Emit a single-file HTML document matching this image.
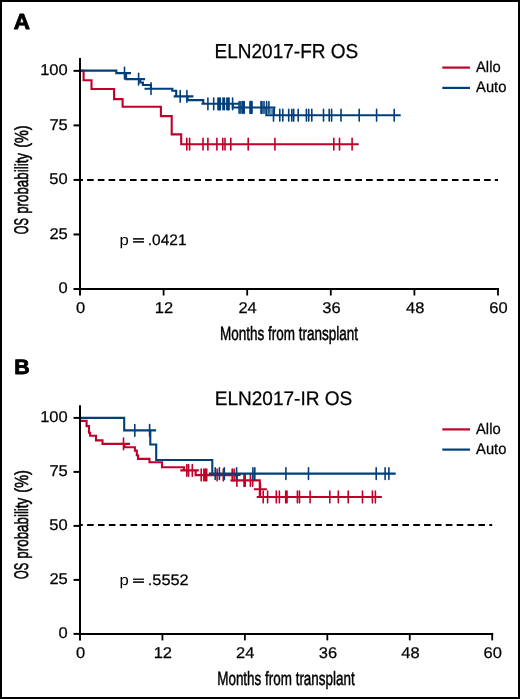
<!DOCTYPE html>
<html><head><meta charset="utf-8"><style>
html,body{margin:0;padding:0;background:#fff;}
body{width:520px;height:699px;overflow:hidden;}
.frame{position:absolute;left:0;top:0;width:516px;height:695px;border:2px solid #000;background:#fff;}
svg{position:absolute;left:0;top:0;will-change:transform;}
text{font-family:"Liberation Sans", sans-serif;fill:#000;text-rendering:geometricPrecision;}
</style></head><body>
<div class="frame"></div>
<svg width="520" height="699" viewBox="0 0 520 699">
<line x1="80.00" y1="58.00" x2="80.00" y2="295.50" stroke="#000" stroke-width="2"/>
<line x1="79.00" y1="289.00" x2="499.00" y2="289.00" stroke="#000" stroke-width="2"/>
<line x1="73.50" y1="289.00" x2="80.00" y2="289.00" stroke="#000" stroke-width="2"/>
<line x1="73.50" y1="234.46" x2="80.00" y2="234.46" stroke="#000" stroke-width="2"/>
<line x1="73.50" y1="179.92" x2="80.00" y2="179.92" stroke="#000" stroke-width="2"/>
<line x1="73.50" y1="125.39" x2="80.00" y2="125.39" stroke="#000" stroke-width="2"/>
<line x1="73.50" y1="70.85" x2="80.00" y2="70.85" stroke="#000" stroke-width="2"/>
<line x1="163.60" y1="289.00" x2="163.60" y2="295.50" stroke="#000" stroke-width="1.8"/>
<line x1="247.20" y1="289.00" x2="247.20" y2="295.50" stroke="#000" stroke-width="1.8"/>
<line x1="330.80" y1="289.00" x2="330.80" y2="295.50" stroke="#000" stroke-width="1.8"/>
<line x1="414.40" y1="289.00" x2="414.40" y2="295.50" stroke="#000" stroke-width="1.8"/>
<line x1="498.00" y1="289.00" x2="498.00" y2="295.50" stroke="#000" stroke-width="1.8"/>
<line x1="81.00" y1="179.92" x2="498.00" y2="179.92" stroke="#000" stroke-width="2" stroke-dasharray="6.60 4.13" stroke-dashoffset="4.63"/>
<text transform="translate(40.15,75.25) scale(1.0600,1)" font-size="15.57" font-weight="normal" stroke="#000" stroke-width="0.25" stroke-linejoin="round">100</text>
<text transform="translate(49.39,129.79) scale(1.0600,1)" font-size="15.57" font-weight="normal" stroke="#000" stroke-width="0.25" stroke-linejoin="round">75</text>
<text transform="translate(49.31,184.32) scale(1.0600,1)" font-size="15.57" font-weight="normal" stroke="#000" stroke-width="0.25" stroke-linejoin="round">50</text>
<text transform="translate(49.39,238.86) scale(1.0600,1)" font-size="15.57" font-weight="normal" stroke="#000" stroke-width="0.25" stroke-linejoin="round">25</text>
<text transform="translate(58.55,293.40) scale(1.0600,1)" font-size="15.57" font-weight="normal" stroke="#000" stroke-width="0.25" stroke-linejoin="round">0</text>
<text transform="translate(76.02,312.80) scale(1.0600,1)" font-size="15.57" font-weight="normal" stroke="#000" stroke-width="0.25" stroke-linejoin="round">0</text>
<text transform="translate(154.83,312.80) scale(1.0600,1)" font-size="15.57" font-weight="normal" stroke="#000" stroke-width="0.25" stroke-linejoin="round">12</text>
<text transform="translate(238.43,312.80) scale(1.0600,1)" font-size="15.57" font-weight="normal" stroke="#000" stroke-width="0.25" stroke-linejoin="round">24</text>
<text transform="translate(322.24,312.80) scale(1.0600,1)" font-size="15.57" font-weight="normal" stroke="#000" stroke-width="0.25" stroke-linejoin="round">36</text>
<text transform="translate(405.96,312.80) scale(1.0600,1)" font-size="15.57" font-weight="normal" stroke="#000" stroke-width="0.25" stroke-linejoin="round">48</text>
<text transform="translate(489.32,312.80) scale(1.0600,1)" font-size="15.57" font-weight="normal" stroke="#000" stroke-width="0.25" stroke-linejoin="round">60</text>
<line x1="80.00" y1="405.20" x2="80.00" y2="640.40" stroke="#000" stroke-width="2"/>
<line x1="79.00" y1="633.90" x2="493.20" y2="633.90" stroke="#000" stroke-width="2"/>
<line x1="73.50" y1="633.90" x2="80.00" y2="633.90" stroke="#000" stroke-width="2"/>
<line x1="73.50" y1="579.90" x2="80.00" y2="579.90" stroke="#000" stroke-width="2"/>
<line x1="73.50" y1="525.90" x2="80.00" y2="525.90" stroke="#000" stroke-width="2"/>
<line x1="73.50" y1="471.90" x2="80.00" y2="471.90" stroke="#000" stroke-width="2"/>
<line x1="73.50" y1="417.90" x2="80.00" y2="417.90" stroke="#000" stroke-width="2"/>
<line x1="162.44" y1="633.90" x2="162.44" y2="640.40" stroke="#000" stroke-width="1.8"/>
<line x1="244.88" y1="633.90" x2="244.88" y2="640.40" stroke="#000" stroke-width="1.8"/>
<line x1="327.32" y1="633.90" x2="327.32" y2="640.40" stroke="#000" stroke-width="1.8"/>
<line x1="409.76" y1="633.90" x2="409.76" y2="640.40" stroke="#000" stroke-width="1.8"/>
<line x1="492.20" y1="633.90" x2="492.20" y2="640.40" stroke="#000" stroke-width="1.8"/>
<line x1="81.00" y1="524.95" x2="492.20" y2="524.95" stroke="#000" stroke-width="2" stroke-dasharray="6.60 4.27" stroke-dashoffset="4.77"/>
<text transform="translate(40.15,422.30) scale(1.0600,1)" font-size="15.57" font-weight="normal" stroke="#000" stroke-width="0.25" stroke-linejoin="round">100</text>
<text transform="translate(49.39,476.30) scale(1.0600,1)" font-size="15.57" font-weight="normal" stroke="#000" stroke-width="0.25" stroke-linejoin="round">75</text>
<text transform="translate(49.31,530.30) scale(1.0600,1)" font-size="15.57" font-weight="normal" stroke="#000" stroke-width="0.25" stroke-linejoin="round">50</text>
<text transform="translate(49.39,584.30) scale(1.0600,1)" font-size="15.57" font-weight="normal" stroke="#000" stroke-width="0.25" stroke-linejoin="round">25</text>
<text transform="translate(58.55,638.30) scale(1.0600,1)" font-size="15.57" font-weight="normal" stroke="#000" stroke-width="0.25" stroke-linejoin="round">0</text>
<text transform="translate(76.02,657.70) scale(1.0600,1)" font-size="15.57" font-weight="normal" stroke="#000" stroke-width="0.25" stroke-linejoin="round">0</text>
<text transform="translate(153.67,657.70) scale(1.0600,1)" font-size="15.57" font-weight="normal" stroke="#000" stroke-width="0.25" stroke-linejoin="round">12</text>
<text transform="translate(236.11,657.70) scale(1.0600,1)" font-size="15.57" font-weight="normal" stroke="#000" stroke-width="0.25" stroke-linejoin="round">24</text>
<text transform="translate(318.76,657.70) scale(1.0600,1)" font-size="15.57" font-weight="normal" stroke="#000" stroke-width="0.25" stroke-linejoin="round">36</text>
<text transform="translate(401.32,657.70) scale(1.0600,1)" font-size="15.57" font-weight="normal" stroke="#000" stroke-width="0.25" stroke-linejoin="round">48</text>
<text transform="translate(483.52,657.70) scale(1.0600,1)" font-size="15.57" font-weight="normal" stroke="#000" stroke-width="0.25" stroke-linejoin="round">60</text>
<rect x="269.6" y="108.4" width="5.4" height="6.0" fill="#023f7a" opacity="0.55"/>
<path d="M274.4,107.5 V115.2" stroke="#023f7a" stroke-width="1.3"/>
<path d="M81.00,70.70 L83.60,70.70 L83.60,80.30 L91.50,80.30 L91.50,89.00 L114.10,89.00 L114.10,99.10 L122.60,99.10 L122.60,106.80 L160.90,106.80 L160.90,116.10 L171.70,116.10 L171.70,134.40 L181.20,134.40 L181.20,144.30 L358.70,144.30 M180.30,144.20 H193.30 M183.10,144.20 H196.10 M196.50,144.20 H209.50 M201.40,144.20 H214.40 M210.40,144.20 H223.40 M216.30,144.20 H229.30 M218.50,144.20 H231.50 M224.30,144.20 H237.30 M241.70,144.20 H254.70 M268.40,144.20 H281.40 M327.30,144.20 H340.30 M333.00,144.20 H346.00 M345.60,144.20 H358.60" fill="none" stroke="#c0002a" stroke-width="2.1" stroke-linejoin="miter" stroke-linecap="butt"/>
<path d="M186.80,138.35 V150.05 M189.60,138.35 V150.05 M203.00,138.35 V150.05 M207.90,138.35 V150.05 M216.90,138.35 V150.05 M222.80,138.35 V150.05 M225.00,138.35 V150.05 M230.80,138.35 V150.05 M248.20,138.35 V150.05 M274.90,138.35 V150.05 M333.80,138.35 V150.05 M339.50,138.35 V150.05 M352.10,138.35 V150.05 " fill="none" stroke="#c0002a" stroke-width="1.6" stroke-linecap="round"/>
<path d="M81.00,70.60 L116.30,70.60 L116.30,73.10 L126.10,73.10 L126.10,79.10 L140.20,79.10 L140.20,82.50 L142.90,82.50 L142.90,85.00 L150.90,85.00 L150.90,88.70 L172.30,88.70 L172.30,90.80 L176.20,90.80 L176.20,96.40 L187.60,96.40 L187.60,100.10 L203.30,100.10 L203.30,103.80 L232.80,103.80 L232.80,107.50 L266.30,107.50 L266.30,115.25 L400.70,115.25 M118.00,73.10 H131.00 M132.10,79.10 H145.10 M144.50,88.70 H157.50 M173.70,96.40 H186.70 M180.40,96.40 H193.40 M201.40,103.80 H214.40 M207.20,103.80 H220.20 M211.50,103.80 H224.50 M212.70,103.80 H225.70 M213.80,103.80 H226.80 M216.50,103.80 H229.50 M217.90,103.80 H230.90 M220.40,103.80 H233.40 M221.50,103.80 H234.50 M222.50,103.80 H235.50 M226.10,103.80 H239.10 M232.60,107.50 H245.60 M234.40,107.50 H247.40 M236.20,107.50 H249.20 M237.70,107.50 H250.70 M243.50,107.50 H256.50 M244.50,107.50 H257.50 M245.50,107.50 H258.50 M254.50,107.50 H267.50 M255.50,107.50 H268.50 M257.50,107.50 H270.50 M260.10,107.50 H273.10 M262.40,107.50 H275.40 M267.00,115.25 H280.00 M273.30,115.25 H286.30 M276.30,115.25 H289.30 M282.20,115.25 H295.20 M285.30,115.25 H298.30 M287.20,115.25 H300.20 M291.70,115.25 H304.70 M299.90,115.25 H312.90 M302.20,115.25 H315.20 M305.30,115.25 H318.30 M317.00,115.25 H330.00 M322.70,115.25 H335.70 M325.10,115.25 H338.10 M334.50,115.25 H347.50 M352.70,115.25 H365.70 M370.10,115.25 H383.10 M387.70,115.25 H400.70" fill="none" stroke="#023f7a" stroke-width="2.1" stroke-linejoin="miter" stroke-linecap="butt"/>
<path d="M124.50,67.25 V78.95 M138.60,73.25 V84.95 M151.00,82.85 V94.55 M180.20,90.55 V102.25 M186.90,90.55 V102.25 M207.90,97.95 V109.65 M213.70,97.95 V109.65 M218.00,97.95 V109.65 M219.20,97.95 V109.65 M220.30,97.95 V109.65 M223.00,97.95 V109.65 M224.40,97.95 V109.65 M226.90,97.95 V109.65 M228.00,97.95 V109.65 M229.00,97.95 V109.65 M232.60,97.95 V109.65 M239.10,101.65 V113.35 M240.90,101.65 V113.35 M242.70,101.65 V113.35 M244.20,101.65 V113.35 M250.00,101.65 V113.35 M251.00,101.65 V113.35 M252.00,101.65 V113.35 M261.00,101.65 V113.35 M262.00,101.65 V113.35 M264.00,101.65 V113.35 M266.60,101.65 V113.35 M268.90,101.65 V113.35 M273.50,109.40 V121.10 M279.80,109.40 V121.10 M282.80,109.40 V121.10 M288.70,109.40 V121.10 M291.80,109.40 V121.10 M293.70,109.40 V121.10 M298.20,109.40 V121.10 M306.40,109.40 V121.10 M308.70,109.40 V121.10 M311.80,109.40 V121.10 M323.50,109.40 V121.10 M329.20,109.40 V121.10 M331.60,109.40 V121.10 M341.00,109.40 V121.10 M359.20,109.40 V121.10 M376.60,109.40 V121.10 M394.20,109.40 V121.10 " fill="none" stroke="#023f7a" stroke-width="1.6" stroke-linecap="round"/>
<path d="M81.00,420.90 L86.60,420.90 L86.60,426.10 L89.00,426.10 L89.00,432.80 L90.10,432.80 L90.10,435.80 L96.00,435.80 L96.00,440.40 L102.50,440.40 L102.50,443.90 L124.50,443.90 L124.50,447.20 L134.90,447.20 L134.90,450.60 L136.80,450.60 L136.80,455.20 L138.00,455.20 L138.00,458.90 L149.50,458.90 L149.50,462.20 L162.00,462.20 L162.00,467.20 L184.00,467.20 L184.00,470.30 L195.60,470.30 L195.60,475.10 L236.60,475.10 L236.60,480.30 L259.80,480.30 L259.80,497.00 L381.30,497.00 M117.00,443.90 H130.00 M180.30,470.40 H193.30 M182.10,470.40 H195.10 M185.80,470.40 H198.80 M194.70,475.00 H207.70 M197.40,475.00 H210.40 M198.90,475.00 H211.90 M200.20,475.00 H213.20 M210.60,475.00 H223.60 M216.80,475.00 H229.80 M225.70,475.00 H238.70 M227.60,475.00 H240.60 M230.40,480.50 H243.40 M237.50,480.50 H250.50 M238.70,480.50 H251.70 M243.90,480.50 H256.90 M246.20,480.50 H259.20 M253.90,489.30 H266.90 M256.70,497.00 H269.70 M261.10,497.00 H274.10 M269.80,497.00 H282.80 M272.90,497.00 H285.90 M279.20,497.00 H292.20 M280.50,497.00 H293.50 M290.90,497.00 H303.90 M293.00,497.00 H306.00 M303.60,497.00 H316.60 M323.30,497.00 H336.30 M331.80,497.00 H344.80 M341.70,497.00 H354.70 M356.00,497.00 H369.00 M365.90,497.00 H378.90 M368.90,497.00 H381.90" fill="none" stroke="#c0002a" stroke-width="2.1" stroke-linejoin="miter" stroke-linecap="butt"/>
<path d="M123.50,438.05 V449.75 M186.80,464.55 V476.25 M188.60,464.55 V476.25 M192.30,464.55 V476.25 M201.20,469.15 V480.85 M203.90,469.15 V480.85 M205.40,469.15 V480.85 M206.70,469.15 V480.85 M217.10,469.15 V480.85 M223.30,469.15 V480.85 M232.20,469.15 V480.85 M234.10,469.15 V480.85 M236.90,474.65 V486.35 M244.00,474.65 V486.35 M245.20,474.65 V486.35 M250.40,474.65 V486.35 M252.70,474.65 V486.35 M260.40,483.45 V495.15 M263.20,491.15 V502.85 M267.60,491.15 V502.85 M276.30,491.15 V502.85 M279.40,491.15 V502.85 M285.70,491.15 V502.85 M287.00,491.15 V502.85 M297.40,491.15 V502.85 M299.50,491.15 V502.85 M310.10,491.15 V502.85 M329.80,491.15 V502.85 M338.30,491.15 V502.85 M348.20,491.15 V502.85 M362.50,491.15 V502.85 M372.40,491.15 V502.85 M375.40,491.15 V502.85 " fill="none" stroke="#c0002a" stroke-width="1.6" stroke-linecap="round"/>
<path d="M81.00,417.90 L124.20,417.90 L124.20,430.40 L150.30,430.40 L150.30,444.50 L156.20,444.50 L156.20,460.00 L212.30,460.00 L212.30,473.60 L395.70,473.60 M128.30,430.40 H141.30 M143.10,430.40 H156.10 M208.70,473.60 H221.70 M212.90,473.60 H225.90 M217.80,473.60 H230.80 M230.10,473.60 H243.10 M246.40,473.60 H259.40 M248.30,473.60 H261.30 M279.40,473.60 H292.40 M302.00,473.60 H315.00 M369.70,473.60 H382.70 M378.60,473.60 H391.60 M382.40,473.60 H395.40" fill="none" stroke="#023f7a" stroke-width="2.1" stroke-linejoin="miter" stroke-linecap="butt"/>
<path d="M134.80,424.55 V436.25 M149.60,424.55 V436.25 M215.20,467.75 V479.45 M219.40,467.75 V479.45 M224.30,467.75 V479.45 M236.60,467.75 V479.45 M252.90,467.75 V479.45 M254.80,467.75 V479.45 M285.90,467.75 V479.45 M308.50,467.75 V479.45 M376.20,467.75 V479.45 M385.10,467.75 V479.45 M388.90,467.75 V479.45 " fill="none" stroke="#023f7a" stroke-width="1.6" stroke-linecap="round"/>
<text transform="translate(13.74,29.30) scale(1.0299,1)" font-size="21.74" font-weight="bold" stroke="#000" stroke-width="0.9" stroke-linejoin="round">A</text>
<text transform="translate(14.21,373.60) scale(1.0212,1)" font-size="20.87" font-weight="bold" stroke="#000" stroke-width="0.9" stroke-linejoin="round">B</text>
<text transform="translate(214.54,58.10) scale(0.9422,1)" font-size="20.20" font-weight="normal" stroke="#000" stroke-width="0.25" stroke-linejoin="round">ELN2017-FR OS</text>
<text transform="translate(214.68,404.80) scale(0.9712,1)" font-size="19.62" font-weight="normal" stroke="#000" stroke-width="0.25" stroke-linejoin="round">ELN2017-IR OS</text>
<line x1="442.30" y1="67.60" x2="470.00" y2="67.60" stroke="#c0002a" stroke-width="2.2"/>
<line x1="442.30" y1="87.90" x2="470.00" y2="87.90" stroke="#023f7a" stroke-width="2.2"/>
<text transform="translate(476.03,71.80) scale(0.9576,1)" font-size="15.41" font-weight="normal" stroke="#000" stroke-width="0.25" stroke-linejoin="round">Allo</text>
<text transform="translate(476.03,92.00) scale(0.9591,1)" font-size="15.41" font-weight="normal" stroke="#000" stroke-width="0.25" stroke-linejoin="round">Auto</text>
<line x1="442.30" y1="429.40" x2="470.00" y2="429.40" stroke="#c0002a" stroke-width="2.2"/>
<line x1="442.30" y1="449.60" x2="470.00" y2="449.60" stroke="#023f7a" stroke-width="2.2"/>
<text transform="translate(476.03,434.10) scale(0.9576,1)" font-size="15.41" font-weight="normal" stroke="#000" stroke-width="0.25" stroke-linejoin="round">Allo</text>
<text transform="translate(476.03,453.70) scale(0.9591,1)" font-size="15.41" font-weight="normal" stroke="#000" stroke-width="0.25" stroke-linejoin="round">Auto</text>
<text transform="translate(220.02,339.70) scale(0.7027,1)" font-size="19.19" font-weight="normal" stroke="#000" stroke-width="0.5" stroke-linejoin="round">Months from transplant</text>
<text transform="translate(217.22,684.80) scale(0.7006,1)" font-size="19.19" font-weight="normal" stroke="#000" stroke-width="0.5" stroke-linejoin="round">Months from transplant</text>
<text transform="translate(28.40,234.20) rotate(-90) scale(0.5638,1)" font-size="19.77" font-weight="normal" stroke="#000" stroke-width="0.6" stroke-linejoin="round">OS</text>
<text transform="translate(28.30,213.87) rotate(-90) scale(0.7072,1)" font-size="18.90" font-weight="normal" stroke="#000" stroke-width="0.6" stroke-linejoin="round">probability</text>
<text transform="translate(28.30,147.87) rotate(-90) scale(0.7671,1)" font-size="18.90" font-weight="normal" stroke="#000" stroke-width="0.6" stroke-linejoin="round">(%)</text>
<text transform="translate(28.40,579.00) rotate(-90) scale(0.5638,1)" font-size="19.77" font-weight="normal" stroke="#000" stroke-width="0.6" stroke-linejoin="round">OS</text>
<text transform="translate(28.30,558.67) rotate(-90) scale(0.7072,1)" font-size="18.90" font-weight="normal" stroke="#000" stroke-width="0.6" stroke-linejoin="round">probability</text>
<text transform="translate(28.30,492.67) rotate(-90) scale(0.7671,1)" font-size="18.90" font-weight="normal" stroke="#000" stroke-width="0.6" stroke-linejoin="round">(%)</text>
<text transform="translate(119.62,245.00) scale(1.1006,1)" font-size="15.14" font-weight="normal">p</text>
<path d="M133.05,238.95 H144.0 M133.05,241.85 H144.0" stroke="#222" stroke-width="1.7" fill="none"/>
<text transform="translate(147.81,245.00) scale(1.0220,1)" font-size="15.14" font-weight="normal" stroke="#000" stroke-width="0.25" stroke-linejoin="round">.0421</text>
<text transform="translate(119.62,585.30) scale(1.1006,1)" font-size="15.14" font-weight="normal">p</text>
<path d="M133.05,579.25 H144.0 M133.05,582.15 H144.0" stroke="#222" stroke-width="1.7" fill="none"/>
<text transform="translate(147.72,585.30) scale(1.0829,1)" font-size="15.14" font-weight="normal" stroke="#000" stroke-width="0.25" stroke-linejoin="round">.5552</text>
</svg>
</body></html>
